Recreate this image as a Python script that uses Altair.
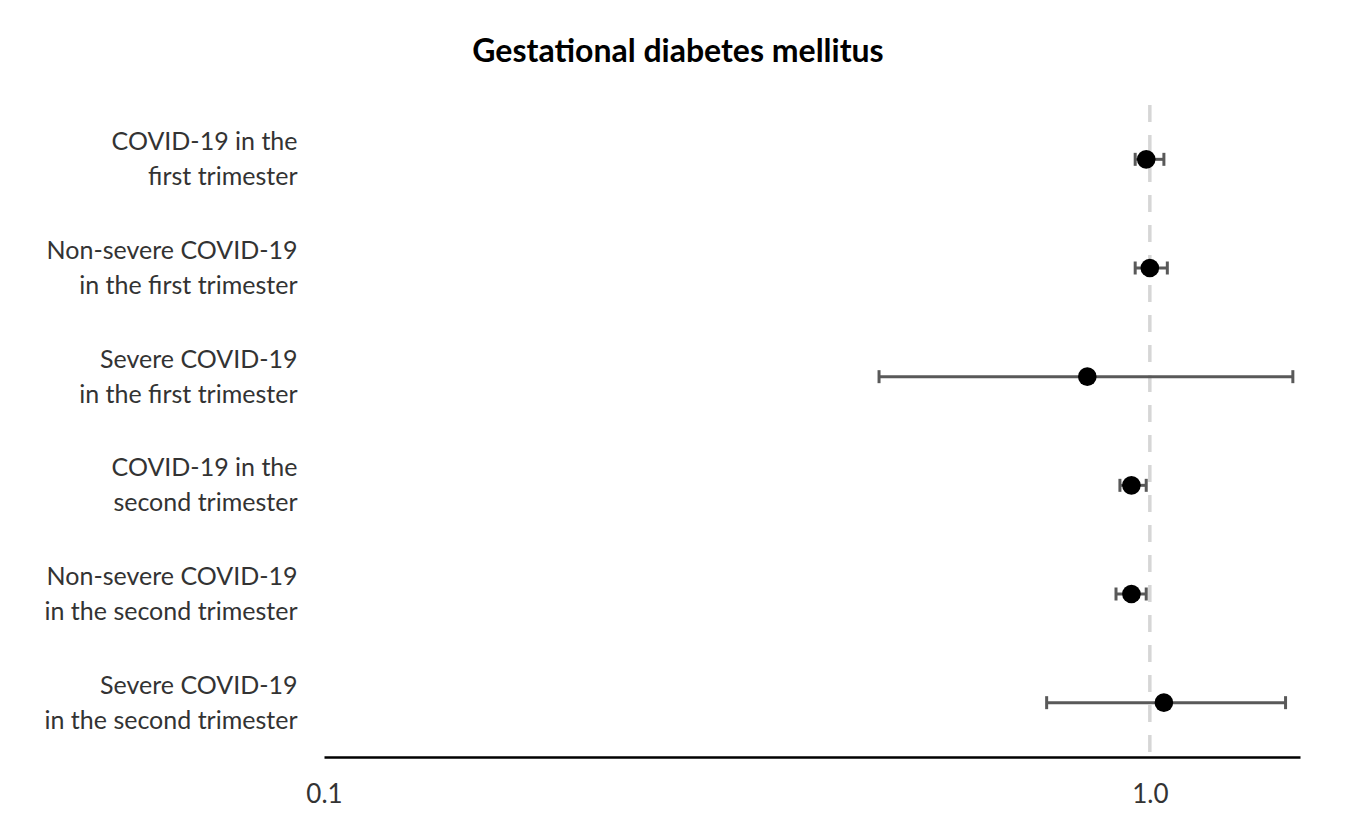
import altair as alt
import pandas as pd

labels = [
    "COVID-19 in the\nfirst trimester",
    "Non-severe COVID-19\nin the first trimester",
    "Severe COVID-19\nin the first trimester",
    "COVID-19 in the\nsecond trimester",
    "Non-severe COVID-19\nin the second trimester",
    "Severe COVID-19\nin the second trimester",
]
or_vals = [0.99, 1.00, 0.84, 0.95, 0.95, 1.04]
ci_low = [0.96, 0.96, 0.47, 0.92, 0.91, 0.75]
ci_high = [1.04, 1.05, 1.49, 0.99, 0.99, 1.46]
x_ticks = [0.1, 1.0]
ref_value = [1.0]

df = pd.DataFrame({"label": labels, "or": or_vals, "lo": ci_low, "hi": ci_high})
ref = pd.DataFrame({"ref": ref_value})

FONT = "Lato"
xscale = alt.Scale(type="log", domain=[0.1, 1.52], nice=False, zero=False)
yscale = alt.Scale(paddingInner=0, paddingOuter=0)

y_enc = alt.Y(
    "label:N",
    sort=labels,
    scale=yscale,
    axis=alt.Axis(
        title=None,
        domain=False,
        ticks=False,
        grid=False,
        labelExpr="split(datum.label, '\\n')",
        labelFontSize=25,
        labelLineHeight=35,
        labelAlign="right",
        labelBaseline="middle",
        labelOffset=-17,
        labelPadding=27,
        labelColor="#333333",
        labelFont=FONT,
        labelLimit=400,
    ),
)

x_axis = alt.Axis(
    title=None,
    values=x_ticks,
    format=".1f",
    grid=False,
    ticks=False,
    domainColor="#000000",
    domainWidth=2.5,
    labelFontSize=26,
    labelColor="#333333",
    labelFont=FONT,
    labelPadding=24,
    labelFlush=False,
    labelBound=False,
)

refline = alt.Chart(ref).mark_rule(
    color="#d6d6d6", strokeWidth=3.5, strokeDash=[17, 13]
).encode(x=alt.X("ref:Q", scale=xscale, axis=x_axis))

base = alt.Chart(df)

bars = base.mark_rule(color="#595959", strokeWidth=3).encode(
    x=alt.X("lo:Q", scale=xscale, axis=x_axis), x2="hi:Q", y=y_enc
)
cap_lo = base.mark_tick(color="#595959", thickness=3, size=13, opacity=1).encode(
    x=alt.X("lo:Q", scale=xscale), y=alt.Y("label:N", sort=labels, scale=yscale)
)
cap_hi = base.mark_tick(color="#595959", thickness=3, size=13, opacity=1).encode(
    x=alt.X("hi:Q", scale=xscale), y=alt.Y("label:N", sort=labels, scale=yscale)
)
points = base.mark_point(filled=True, shape="circle", size=346, color="#000000", opacity=1).encode(
    x=alt.X("or:Q", scale=xscale), y=alt.Y("label:N", sort=labels, scale=yscale)
)

chart = (
    alt.layer(refline, bars, cap_lo, cap_hi, points)
    .properties(
        width=976,
        height=652,
        autosize=alt.AutoSizeParams(type="none"),
        padding={"left": 316, "top": 97, "right": 35, "bottom": 60},
        background="#ffffff",
        title=alt.TitleParams(
            "Gestational diabetes mellitus",
            font=FONT,
            fontSize=32,
            fontWeight="bold",
            color="#000000",
            anchor="middle",
            dx=-134,
            offset=34,
        ),
    )
    .configure_view(strokeWidth=0, stroke="transparent")
)

chart.save("out.html", embed_options={"renderer": "svg", "actions": False})
